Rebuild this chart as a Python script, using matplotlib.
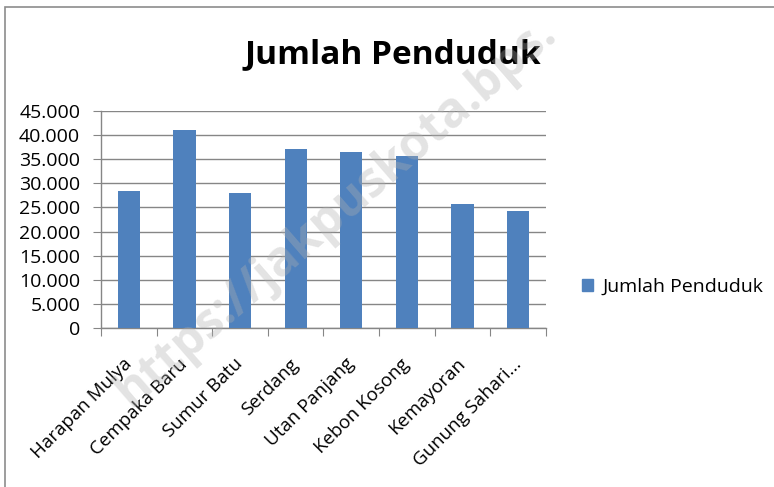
import matplotlib.pyplot as plt
from matplotlib.patches import Rectangle, Patch
from matplotlib.ticker import FuncFormatter, MultipleLocator
import numpy as np

kelurahan = ['Harapan Mulya', 'Cempaka Baru', 'Sumur Batu', 'Serdang',
             'Utan Panjang', 'Kebon Kosong', 'Kemayoran', 'Gunung Sahari...']
penduduk = [28400, 41000, 28000, 37200, 36450, 35650, 25700, 24200]

BAR_COLOR = '#4f81bd'
GRID_COLOR = '#868686'
plt.rcParams['font.family'] = ['Open Sans', 'DejaVu Sans']

fig = plt.figure(figsize=(7.74, 4.87), dpi=100)

# chart frame like the spreadsheet chart area
fig.patches.append(Rectangle((5 / 774, -0.1), 1.2, 1 - 7 / 487 + 0.1,
                             transform=fig.transFigure, fill=False,
                             edgecolor='#8c8c8c', linewidth=1.2))

ax = fig.add_axes([101 / 774, 1 - 328 / 487, 445 / 774, 217 / 487])
x = np.arange(len(kelurahan))
ax.bar(x, penduduk, width=0.4, color=BAR_COLOR, zorder=3)

ax.set_xlim(-0.5, len(kelurahan) - 0.5)
ax.set_ylim(0, 45000)
ax.yaxis.set_major_locator(MultipleLocator(5000))
ax.yaxis.set_major_formatter(FuncFormatter(lambda v, p: f'{int(v):,}'.replace(',', '.')))
ax.grid(axis='y', color=GRID_COLOR, linewidth=1, zorder=0)
ax.set_axisbelow(True)

for s in ['top', 'right']:
    ax.spines[s].set_visible(False)
for s in ['left', 'bottom']:
    ax.spines[s].set_color(GRID_COLOR)
    ax.spines[s].set_linewidth(1)

# category ticks sit between the bars
ax.set_xticks(np.arange(len(kelurahan) + 1) - 0.5)
ax.set_xticklabels([])
ax.set_xticks(x, minor=True)
ax.set_xticklabels(kelurahan, minor=True, rotation=45, ha='right',
                   va='center', rotation_mode='anchor', fontsize=13.5)
ax.tick_params(axis='x', which='minor', length=0, pad=24)
ax.tick_params(axis='x', which='major', length=6, color=GRID_COLOR)
ax.tick_params(axis='y', length=6, color=GRID_COLOR, labelsize=14, pad=9)

fig.text(393 / 774, 1 - 55 / 487, 'Jumlah Penduduk', fontsize=24,
         fontweight='bold', ha='center', va='center')

fig.legend(handles=[Patch(color=BAR_COLOR, label='Jumlah Penduduk')],
           loc='center left', bbox_to_anchor=(582 / 774, 1 - 287 / 487),
           frameon=False, fontsize=14, handlelength=0.57, handleheight=0.57,
           handletextpad=0.46, borderpad=0, borderaxespad=0)

# faint watermark across the chart
fig.text(130 / 774, 1 - 408 / 487, 'https://jakpuskota.bps.', fontsize=35,
         fontweight='bold', color='#b0b0b0', alpha=0.35, rotation=41,
         rotation_mode='anchor', ha='left', va='baseline', zorder=10)

fig.savefig('out.png', dpi=100)
